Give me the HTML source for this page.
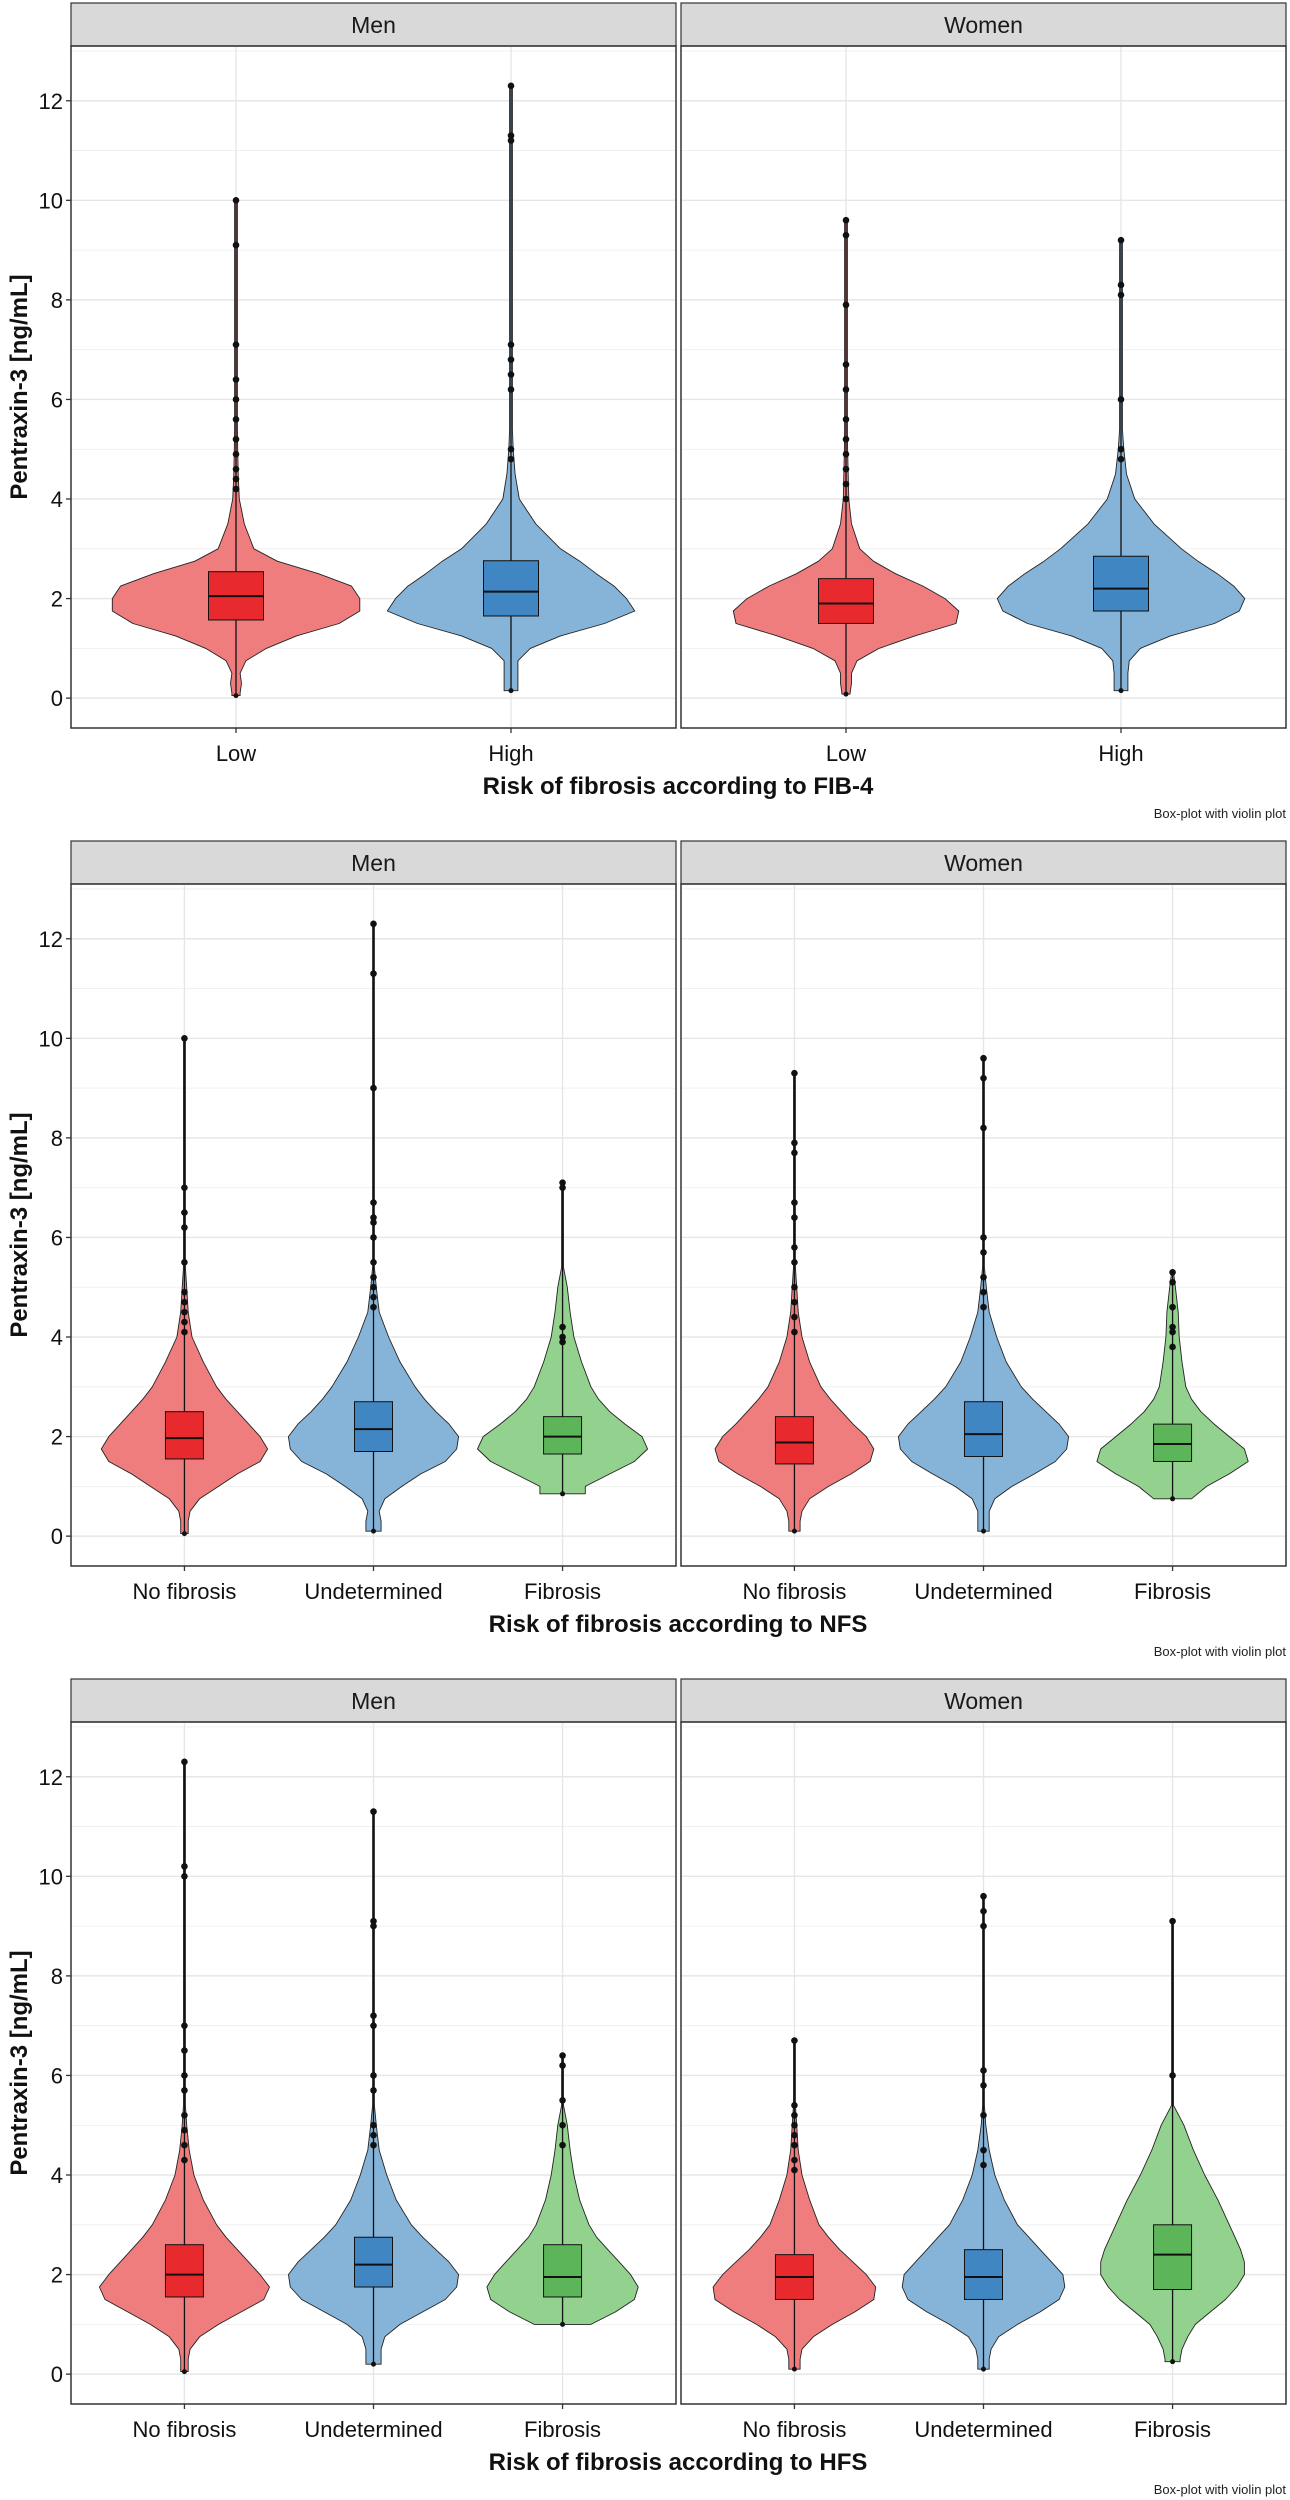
<!DOCTYPE html>
<html><head><meta charset="utf-8"><style>
html,body{margin:0;padding:0;background:#fff;}
svg{display:block;font-family:"Liberation Sans",Arial,sans-serif;}
</style></head><body>
<svg id="chart" width="1290" height="2500" viewBox="0 0 1290 2500" xmlns="http://www.w3.org/2000/svg"></svg>
<script>
// shared density grid (ng/mL)
const densY = [0.1,0.3,0.5,0.75,1,1.25,1.5,1.75,2,2.25,2.5,2.75,3,3.5,4,4.5,5];
const yTicks = [0,2,4,6,8,10,12];
const yMinor = [1,3,5,7,9,11,13];
const sexes = ['Men','Women'];
const catsFIB4 = ['Low','High'];
const catsNFS = ['No fibrosis','Undetermined','Fibrosis'];
const catsHFS = ['No fibrosis','Undetermined','Fibrosis'];
const titles = ['Risk of fibrosis according to FIB-4','Risk of fibrosis according to NFS','Risk of fibrosis according to HFS'];

// violin half-widths (category units) along densY; range [min,max]; box [wlo,q1,med,q3,whi]; outliers
const fib4MenLowW = [.015,.02,.015,.036,.11,.22,.375,.45,.45,.42,.3,.15,.065,.03,.012,.008,.006];
const fib4MenLowR = [0.05,10];
const fib4MenLowBox = [0.05,1.57,2.05,2.54,4.0];
const fib4MenLowOut = [10,9.1,7.1,6.4,6.0,5.6,5.2,4.9,4.6,4.4,4.2];
const fib4MenHighW = [.025,.025,.025,.025,.07,.18,.34,.45,.42,.375,.31,.25,.18,.09,.03,.015,.008];
const fib4MenHighR = [0.15,12.3];
const fib4MenHighBox = [0.15,1.65,2.14,2.76,4.6];
const fib4MenHighOut = [12.3,11.3,11.2,7.1,6.8,6.5,6.2,5.0,4.8];
const fib4WomenLowW = [.015,.02,.02,.04,.12,.25,.4,.41,.36,.28,.18,.1,.05,.02,.01,.008,.006];
const fib4WomenLowR = [0.08,9.6];
const fib4WomenLowBox = [0.08,1.5,1.9,2.4,3.8];
const fib4WomenLowOut = [9.6,9.3,7.9,6.7,6.2,5.6,5.2,4.9,4.6,4.3,4.0];
const fib4WomenHighW = [.025,.025,.025,.03,.07,.18,.34,.43,.45,.41,.35,.28,.22,.12,.05,.02,.01];
const fib4WomenHighR = [0.15,9.2];
const fib4WomenHighBox = [0.15,1.75,2.2,2.85,4.7];
const fib4WomenHighOut = [9.2,8.3,8.1,6.0,5.0,4.8];

const nfsMenNoW = [.02,.02,.03,.08,.18,.28,.4,.44,.4,.34,.28,.22,.17,.1,.04,.02,.012];
const nfsMenNoR = [0.05,10];
const nfsMenNoBox = [0.05,1.55,1.97,2.5,3.9];
const nfsMenNoOut = [10,7.0,6.5,6.2,5.5,4.9,4.7,4.5,4.3,4.1];
const nfsMenUndW = [.04,.04,.03,.06,.15,.25,.38,.44,.45,.4,.33,.27,.22,.14,.08,.03,.015];
const nfsMenUndR = [0.1,12.3];
const nfsMenUndBox = [0.1,1.7,2.15,2.7,4.4];
const nfsMenUndOut = [12.3,11.3,9.0,6.7,6.4,6.3,6.0,5.5,5.2,5.0,4.8,4.6];
const nfsMenFibW = [0,0,0,0,.12,.25,.38,.45,.42,.33,.25,.19,.15,.1,.06,.04,.025];
const nfsMenFibR = [0.85,7.1];
const nfsMenFibBox = [0.85,1.65,2.0,2.4,3.5];
const nfsMenFibOut = [7.1,7.0,4.2,4.0,3.9];
const nfsWomenNoW = [.03,.03,.04,.08,.18,.3,.4,.42,.38,.31,.25,.19,.14,.08,.04,.02,.012];
const nfsWomenNoR = [0.1,9.3];
const nfsWomenNoBox = [0.1,1.45,1.88,2.4,3.9];
const nfsWomenNoOut = [9.3,7.9,7.7,6.7,6.4,5.8,5.5,5.0,4.7,4.4,4.1];
const nfsWomenUndW = [.03,.03,.03,.06,.15,.27,.38,.44,.45,.4,.33,.26,.2,.12,.07,.03,.015];
const nfsWomenUndR = [0.1,9.6];
const nfsWomenUndBox = [0.1,1.6,2.05,2.7,4.3];
const nfsWomenUndOut = [9.6,9.2,8.2,6.0,5.7,5.2,4.9,4.6];
const nfsWomenFibW = [0,0,0,.1,.18,.3,.4,.38,.3,.22,.15,.1,.07,.05,.035,.03,.015];
const nfsWomenFibR = [0.75,5.3];
const nfsWomenFibBox = [0.75,1.5,1.85,2.25,3.2];
const nfsWomenFibOut = [5.3,5.1,4.6,4.2,4.1,3.8];

const hfsMenNoW = [.02,.02,.03,.08,.18,.3,.42,.45,.4,.34,.28,.22,.17,.1,.05,.025,.012];
const hfsMenNoR = [0.05,12.3];
const hfsMenNoBox = [0.05,1.55,2.0,2.6,4.1];
const hfsMenNoOut = [12.3,10.2,10.0,7.0,6.5,6.0,5.7,5.2,4.9,4.6,4.3];
const hfsMenUndW = [0,.04,.04,.06,.14,.26,.38,.44,.45,.4,.33,.26,.2,.12,.07,.03,.015];
const hfsMenUndR = [0.2,11.3];
const hfsMenUndBox = [0.2,1.75,2.2,2.75,4.5];
const hfsMenUndOut = [11.3,9.1,9.0,7.2,7.0,6.0,5.7,5.0,4.8,4.6];
const hfsMenFibW = [0,0,0,0,.15,.28,.38,.4,.36,.3,.24,.18,.14,.09,.06,.04,.025];
const hfsMenFibR = [1.0,6.4];
const hfsMenFibBox = [1.0,1.55,1.95,2.6,4.0];
const hfsMenFibOut = [6.4,6.2,5.5,5.0,4.6];
const hfsWomenNoW = [.03,.03,.04,.1,.2,.32,.42,.43,.38,.31,.24,.18,.13,.08,.04,.02,.012];
const hfsWomenNoR = [0.1,6.7];
const hfsWomenNoBox = [0.1,1.5,1.95,2.4,3.8];
const hfsWomenNoOut = [6.7,5.4,5.2,5.0,4.8,4.6,4.3,4.1];
const hfsWomenUndW = [.03,.03,.04,.08,.18,.3,.4,.43,.42,.36,.3,.24,.18,.11,.06,.03,.012];
const hfsWomenUndR = [0.1,9.6];
const hfsWomenUndBox = [0.1,1.5,1.95,2.5,4.0];
const hfsWomenUndOut = [9.6,9.3,9.0,6.1,5.8,5.2,4.5,4.2];
const hfsWomenFibW = [0,.04,.05,.08,.12,.2,.28,.34,.38,.38,.36,.33,.3,.24,.17,.11,.06];
const hfsWomenFibR = [0.25,9.1];
const hfsWomenFibBox = [0.25,1.7,2.4,3.0,5.3];
const hfsWomenFibOut = [9.1,6.0];

const rows = [
  {cats:catsFIB4, v:[[ [fib4MenLowW,fib4MenLowR,fib4MenLowBox,fib4MenLowOut],[fib4MenHighW,fib4MenHighR,fib4MenHighBox,fib4MenHighOut] ],
                      [ [fib4WomenLowW,fib4WomenLowR,fib4WomenLowBox,fib4WomenLowOut],[fib4WomenHighW,fib4WomenHighR,fib4WomenHighBox,fib4WomenHighOut] ]]},
  {cats:catsNFS, v:[[ [nfsMenNoW,nfsMenNoR,nfsMenNoBox,nfsMenNoOut],[nfsMenUndW,nfsMenUndR,nfsMenUndBox,nfsMenUndOut],[nfsMenFibW,nfsMenFibR,nfsMenFibBox,nfsMenFibOut] ],
                     [ [nfsWomenNoW,nfsWomenNoR,nfsWomenNoBox,nfsWomenNoOut],[nfsWomenUndW,nfsWomenUndR,nfsWomenUndBox,nfsWomenUndOut],[nfsWomenFibW,nfsWomenFibR,nfsWomenFibBox,nfsWomenFibOut] ]]},
  {cats:catsHFS, v:[[ [hfsMenNoW,hfsMenNoR,hfsMenNoBox,hfsMenNoOut],[hfsMenUndW,hfsMenUndR,hfsMenUndBox,hfsMenUndOut],[hfsMenFibW,hfsMenFibR,hfsMenFibBox,hfsMenFibOut] ],
                     [ [hfsWomenNoW,hfsWomenNoR,hfsWomenNoBox,hfsWomenNoOut],[hfsWomenUndW,hfsWomenUndR,hfsWomenUndBox,hfsWomenUndOut],[hfsWomenFibW,hfsWomenFibR,hfsWomenFibBox,hfsWomenFibOut] ]]}
];

const NS='http://www.w3.org/2000/svg';
const svg=document.getElementById('chart');
function mk(tag,attrs,parent){const e=document.createElementNS(NS,tag);for(const k in attrs)e.setAttribute(k,attrs[k]);(parent||svg).appendChild(e);return e;}
const violinFill=['#F07D7E','#86B3D8','#93D18F'];
const boxFill=['#E8292E','#3F86C2','#5DB55A'];
const panelX=[[71,676],[681,1286]];
const ROW_H=838, PT=46, PB=728, YMIN=-0.6, YMAX=13.1;

rows.forEach((row,ri)=>{
  const off=ri*ROW_H;
  const yS=v=>off+PB-(v-YMIN)/(YMAX-YMIN)*(PB-PT);
  const n=row.cats.length;
  const boxHalf = n===2?27.5:19;
  panelX.forEach((px,si)=>{
    const [L,R]=px;
    const unit=(R-L)/(n-1+1.2);
    const xS=i=>L+(0.6+i)*unit;
    const g=mk('g',{});
    
    
    const st=mk('rect',{x:L,y:off+3,width:R-L,height:PT-3,fill:'#D9D9D9',stroke:'#333','stroke-width':1.2},g);
    
    
    const stt=mk('text',{x:(L+R)/2,y:off+33,'text-anchor':'middle','font-size':23,fill:'#1a1a1a'},g);
    stt.textContent=sexes[si];
    
    
    yMinor.forEach(t=>{mk('line',{x1:L,x2:R,y1:yS(t),y2:yS(t),stroke:'#EEEEEE','stroke-width':0.8},g);});
    yTicks.forEach(t=>{mk('line',{x1:L,x2:R,y1:yS(t),y2:yS(t),stroke:'#E6E6E6','stroke-width':1.4},g);});
    row.cats.forEach((c,i)=>{mk('line',{x1:xS(i),x2:xS(i),y1:off+PT,y2:off+PB,stroke:'#E6E6E6','stroke-width':1.4},g);});
    row.v[si].forEach((vd,i)=>{
      const [W,Rg,B,O]=vd;
      const cx=xS(i);
      const pts=[];
      const stem=0.005;
      const wAt=v=>{
        if(v<=densY[0]) return W[0]||stem;
        for(let k=1;k<densY.length;k++){ if(v<=densY[k]){const a=W[k-1]||W[k],b=W[k];const t=(v-densY[k-1])/(densY[k]-densY[k-1]);return a+(b-a)*t;} }
        return stem;
      };
      pts.push([Rg[0],wAt(Rg[0])]);
      densY.forEach((y,k)=>{ if(y>Rg[0]&&y<Rg[1]&&W[k]>0) pts.push([y,W[k]]); });
      if(Rg[1]>5.4) pts.push([5.4,stem]);
      pts.push([Rg[1],stem]);
      let d='';
      pts.forEach((p,k)=>{d+=(k?'L':'M')+(cx+p[1]*unit).toFixed(1)+','+yS(p[0]).toFixed(1);});
      for(let k=pts.length-1;k>=0;k--){d+='L'+(cx-pts[k][1]*unit).toFixed(1)+','+yS(pts[k][0]).toFixed(1);}
      d+='Z';
      const vp=mk('path',{d:d,fill:violinFill[i],stroke:'#222','stroke-width':0.9,'stroke-linejoin':'round'},g);
      
      
      mk('line',{x1:cx,x2:cx,y1:yS(B[0]),y2:yS(Rg[1]),stroke:'#111','stroke-width':1.3},g);
      const bx=mk('rect',{x:cx-boxHalf,y:yS(B[3]),width:2*boxHalf,height:yS(B[1])-yS(B[3]),fill:boxFill[i],stroke:'#111','stroke-width':1},g);
      
      
      mk('line',{x1:cx-boxHalf,x2:cx+boxHalf,y1:yS(B[2]),y2:yS(B[2]),stroke:'#111','stroke-width':2},g);
      O.forEach(o=>{
        const c=mk('circle',{cx:cx,cy:yS(o),r:3.3,fill:'#111'},g);
        
        
      });
      mk('circle',{cx:cx,cy:yS(B[0]),r:2.5,fill:'#111'},g);
    });
    mk('rect',{x:L,y:off+PT,width:R-L,height:PB-PT,fill:'none',stroke:'#333','stroke-width':1.5},g);
    row.cats.forEach((c,i)=>{
      mk('line',{x1:xS(i),x2:xS(i),y1:off+PB,y2:off+PB+5,stroke:'#333','stroke-width':1.3},g);
      const t=mk('text',{x:xS(i),y:off+PB+33,'text-anchor':'middle','font-size':22,fill:'#111'},g);
      t.textContent=c;
      
      
    });
  });
  yTicks.forEach(t=>{
    mk('line',{x1:66,x2:71,y1:yS(t),y2:yS(t),stroke:'#333','stroke-width':1.3});
    const tx=mk('text',{x:63,y:yS(t)+8,'text-anchor':'end','font-size':22,fill:'#111'});
    tx.textContent=t;
    
    
  });
  const yc=off+(PT+PB)/2;
  const yt=mk('text',{x:0,y:0,transform:'translate(27,'+yc+') rotate(-90)','text-anchor':'middle','font-size':24,'font-weight':'bold',fill:'#111'});
  yt.textContent='Pentraxin-3 [ng/mL]';
  
  
  const xt=mk('text',{x:678,y:off+794,'text-anchor':'middle','font-size':24,'font-weight':'bold',fill:'#111'});
  xt.textContent=titles[ri];
  
  
  const cap=mk('text',{x:1286,y:off+818,'text-anchor':'end','font-size':13,fill:'#222'});
  cap.textContent='Box-plot with violin plot';
  
  
});
</script>
</body></html>
